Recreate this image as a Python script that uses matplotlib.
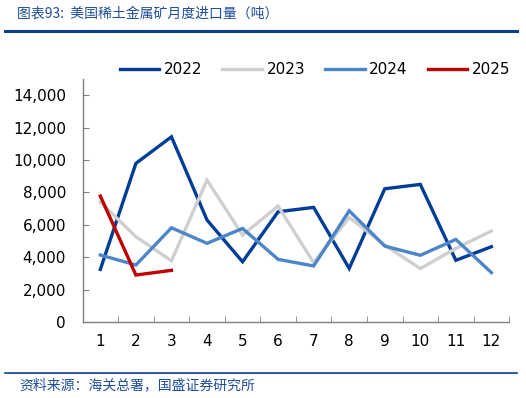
import matplotlib
matplotlib.use("Agg")
import matplotlib.pyplot as plt
from matplotlib.lines import Line2D
import numpy as np

plt.rcParams['font.family'] = ['DejaVu Sans', 'Noto Sans CJK SC']

months = ["1", "2", "3", "4", "5", "6", "7", "8", "9", "10", "11", "12"]
y2022 = [3250, 9800, 11440, 6300, 3720, 6810, 7080, 3310, 8230, 8500, 3810, 4650]
y2023 = [7400, 5270, 3780, 8770, 5370, 7160, 3660, 6460, 4750, 3300, 4550, 5620]
y2024 = [4140, 3520, 5820, 4860, 5780, 3870, 3460, 6870, 4690, 4120, 5100, 3050]
y2025 = [7780, 2900, 3190]
yticks = [0, 2000, 4000, 6000, 8000, 10000, 12000, 14000]

series = [("2022", y2022, "#003d97"), ("2023", y2023, "#cfcfcf"),
          ("2024", y2024, "#4d86c8"), ("2025", y2025, "#c00000")]

fig = plt.figure(figsize=(5.26, 3.98), dpi=100)
ax = fig.add_axes([0.157, 0.191, 0.811, 0.610])

x = np.arange(len(months))
for name, vals, col in series:
    ax.plot(x[:len(vals)], vals, color=col, lw=2.4, label=name, solid_joinstyle='miter')

ax.set_xlim(-0.5, len(months) - 0.5)
ax.set_ylim(0, 15000)
ax.set_yticks(yticks)
ax.set_yticklabels([f"{v:,}" for v in yticks], fontsize=11)
ax.set_xticks(x)
ax.set_xticklabels(months, fontsize=11)
ax.set_xticks(np.arange(-0.5, len(months)), minor=True)
ax.tick_params(axis='x', which='major', length=0, pad=9)
ax.tick_params(axis='x', which='minor', direction='in', length=4, color='#808080')
ax.tick_params(axis='y', direction='in', length=4, color='#808080', pad=12)
for s in ['top', 'right']:
    ax.spines[s].set_visible(False)
for s in ['left', 'bottom']:
    ax.spines[s].set_color('#808080')
    ax.spines[s].set_linewidth(1.0)

ax.legend(loc='center', bbox_to_anchor=(0.545, 1.038), ncol=4, frameon=False,
          fontsize=11, handlelength=2.6, handletextpad=0.3, columnspacing=1.3,
          borderaxespad=0, borderpad=0)

title_col = "#1f4e9a"
fig.text(0.032, 0.965, "图表93:  美国稀土金属矿月度进口量（吨）", color=title_col,
         fontsize=10, family=['Noto Sans CJK SC', 'DejaVu Sans'], style='italic', va='center')
fig.add_artist(Line2D([0.01, 0.983], [0.922, 0.922], color="#0b3f93", lw=2.2))
fig.add_artist(Line2D([0.01, 0.983], [0.063, 0.063], color="#0b3f93", lw=1.2))
fig.text(0.036, 0.033, "资料来源：海关总署，国盛证券研究所", color=title_col,
         fontsize=10, family=['Noto Sans CJK SC', 'DejaVu Sans'], style='italic', va='center')

fig.savefig("out.png", dpi=100)
